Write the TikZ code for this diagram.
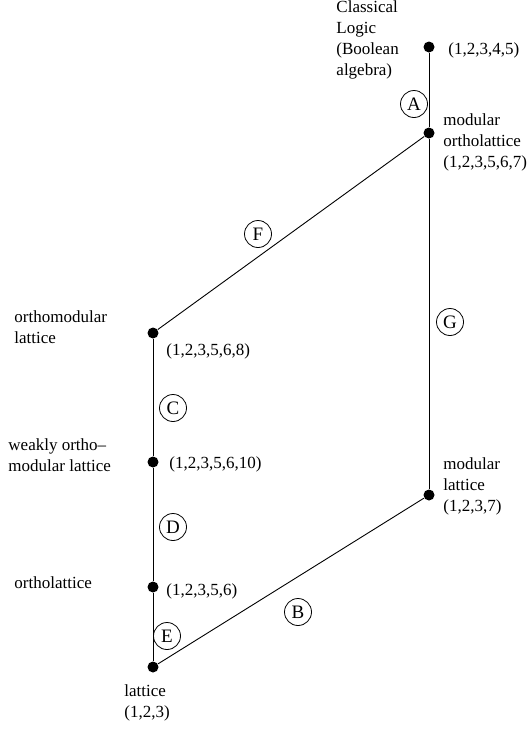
\documentclass[tikz,border=0pt]{standalone}
\usepackage{fontspec}
\setmainfont{Liberation Serif}
\tikzset{
  dot/.style={circle,fill=black,inner sep=0pt,minimum size=11pt},
  tag/.style={circle,draw,line width=0.8pt,inner sep=0pt,minimum size=27pt,font=\fontsize{19}{20}\selectfont},
  txt/.style={anchor=west,align=left,inner sep=0pt}
}
\begin{document}
\begin{tikzpicture}[x=1pt,y=-1pt,font=\fontsize{17}{21}\selectfont,line width=0.9pt]
\useasboundingbox (0,0) rectangle (529,729);

% lattice points
\node[dot] (bool) at (429,47) {};
\node[dot] (mol) at (429,133) {};
\node[dot] (oml) at (153,333) {};
\node[dot] (wom) at (153,462) {};
\node[dot] (ml) at (429,495) {};
\node[dot] (ol) at (153,587) {};
\node[dot] (lat) at (153,667) {};

% edges
\draw (bool) -- (mol);
\draw (mol) -- (ml);
\draw (mol) -- (oml);
\draw (oml) -- (wom);
\draw (wom) -- (ol);
\draw (ol) -- (lat);
\draw (lat) -- (ml);

% circled letters
\node[tag] (a) at (414,104) {A};
\node[tag] (f) at (258,234) {F};
\node[tag] (g) at (450,322) {G};
\node[tag] (c) at (173,408) {C};
\node[tag] (d) at (173,527) {D};
\node[tag] (e) at (167,636) {E};
\node[tag] (b) at (298,612) {B};

% labels
\node[txt] (tbool) at (336,40) {Classical\\Logic\\(Boolean\\algebra)};
\node[txt] (nbool) at (448,50) {(1,2,3,4,5)};
\node[txt] (tmol) at (443,142) {modular\\ortholattice\\(1,2,3,5,6,7)};
\node[txt] (toml) at (14,327) {orthomodular\\lattice};
\node[txt] (noml) at (166,351) {(1,2,3,5,6,8)};
\node[txt] (twom) at (8,455) {weakly ortho--\\modular lattice};
\node[txt] (nwom) at (169,464) {(1,2,3,5,6,10)};
\node[txt] (tml) at (443,486) {modular\\lattice\\(1,2,3,7)};
\node[txt] (tol) at (14,583) {ortholattice};
\node[txt] (nol) at (166,591) {(1,2,3,5,6)};
\node[txt] (tlat) at (124,703) {lattice\\(1,2,3)};

\end{tikzpicture}
\end{document}
